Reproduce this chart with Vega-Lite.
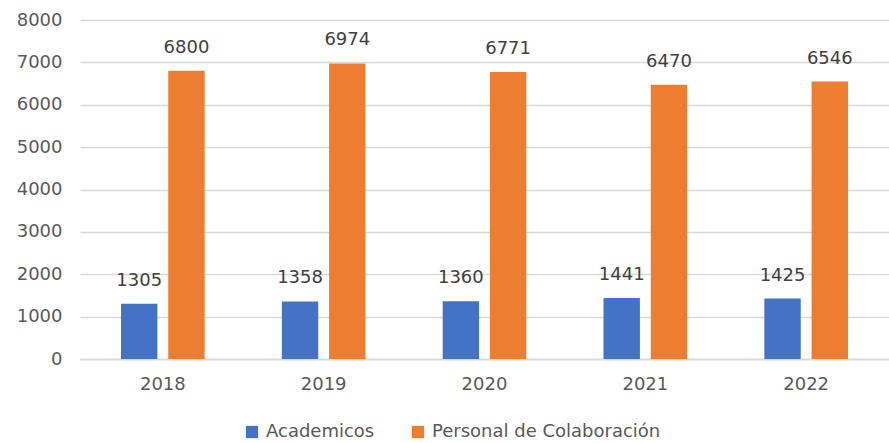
{
  "$schema": "https://vega.github.io/schema/vega-lite/v6.json",
  "width": 809,
  "height": 339,
  "autosize": {"type": "none"},
  "padding": {"left": 80, "top": 20, "right": 0, "bottom": 84},
  "background": "white",
  "config": {
    "view": {"stroke": null},
    "font": "DejaVu Sans",
    "axis": {"labelFont": "DejaVu Sans", "labelFontSize": 18, "labelColor": "#595959", "titleFont": "DejaVu Sans"},
    "legend": {"labelFont": "DejaVu Sans", "labelFontSize": 18, "labelColor": "#595959"}
  },
  "data": {
    "values": [
      {"year": "2018", "serie": "Academicos", "value": 1305},
      {"year": "2018", "serie": "Personal de Colaboración", "value": 6800},
      {"year": "2019", "serie": "Academicos", "value": 1358},
      {"year": "2019", "serie": "Personal de Colaboración", "value": 6974},
      {"year": "2020", "serie": "Academicos", "value": 1360},
      {"year": "2020", "serie": "Personal de Colaboración", "value": 6771},
      {"year": "2021", "serie": "Academicos", "value": 1441},
      {"year": "2021", "serie": "Personal de Colaboración", "value": 6470},
      {"year": "2022", "serie": "Academicos", "value": 1425},
      {"year": "2022", "serie": "Personal de Colaboración", "value": 6546}
    ]
  },
  "encoding": {
    "x": {
      "field": "year", "type": "nominal",
      "scale": {"paddingInner": 0.48, "paddingOuter": 0.255},
      "axis": {"title": null, "labelAngle": 0, "ticks": false, "domainColor": "#d9d9d9", "domainWidth": 1.5, "labelPadding": 16}
    },
    "xOffset": {"field": "serie", "type": "nominal", "scale": {"paddingInner": 0.23}},
    "y": {
      "field": "value", "type": "quantitative",
      "scale": {"domain": [0, 8000]},
      "axis": {"title": null, "format": "d", "labelOverlap": false, "values": [0,1000,2000,3000,4000,5000,6000,7000,8000], "domain": false, "ticks": false, "gridColor": "#d9d9d9", "gridWidth": 1.5, "labelPadding": 18}
    }
  },
  "layer": [
    {
      "mark": {"type": "bar"},
      "encoding": {
        "color": {
          "field": "serie", "type": "nominal",
          "scale": {"domain": ["Academicos", "Personal de Colaboración"], "range": ["#4472C4", "#ED7D31"]},
          "legend": {"title": null, "orient": "none", "direction": "horizontal", "legendX": 163, "legendY": 403, "symbolType": "square", "symbolSize": 150, "symbolStrokeWidth": 0, "columnPadding": 34, "labelOffset": 5, "labelLimit": 400}
        }
      }
    },
    {
      "mark": {"type": "text", "baseline": "bottom", "dy": -14, "fontSize": 18, "color": "#404040", "font": "DejaVu Sans"},
      "encoding": {"text": {"field": "value", "type": "quantitative", "format": "d"}}
    }
  ]
}
